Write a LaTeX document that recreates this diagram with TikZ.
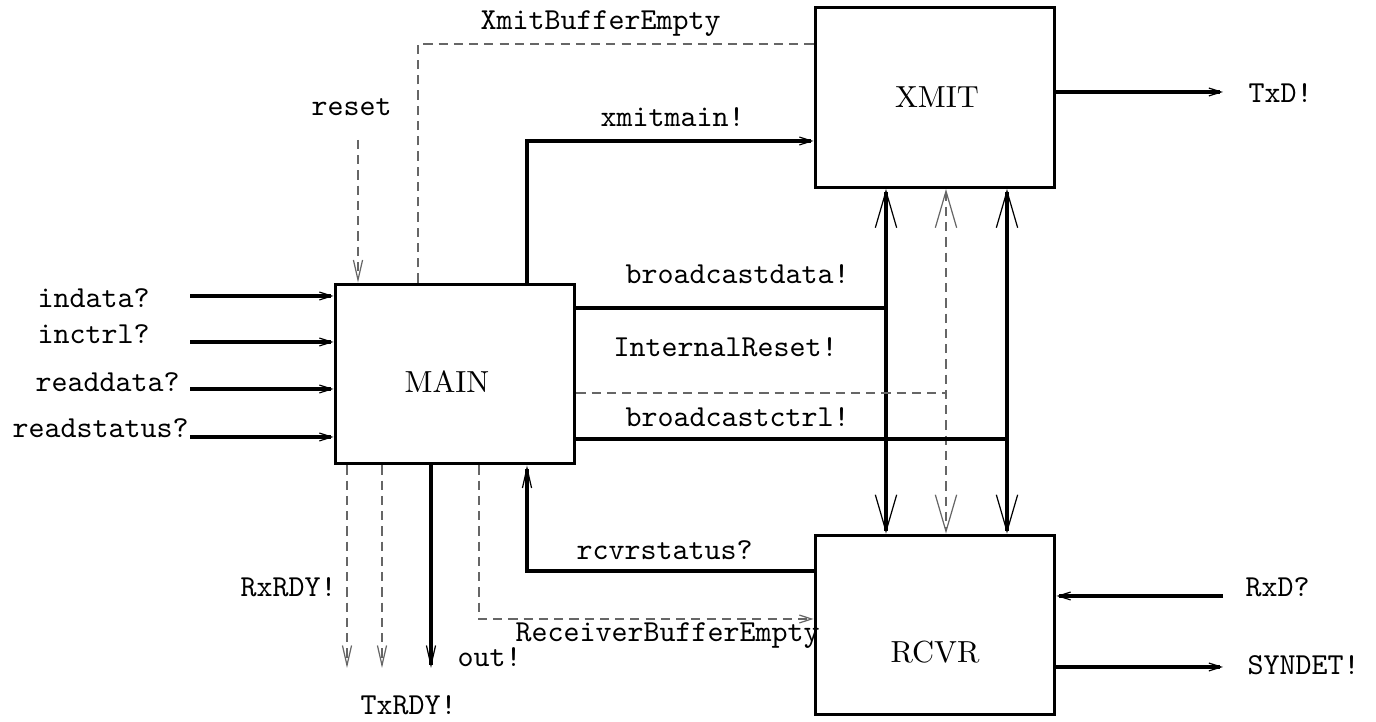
\documentclass[tikz,border=0pt]{standalone}
\usetikzlibrary{arrows.meta}

\tikzset{
	unit/.style={draw, line width=1pt, minimum width=78.7pt, minimum height=59pt, inner sep=0pt},
	unitname/.style={font=\rmfamily},
	sigtext/.style={font=\ttfamily, anchor=base west, inner sep=0pt},
	sig/.style={line width=1pt},
	ctl/.style={line width=0.4pt, black!60, dash pattern=on 3pt off 2pt},
	hh/.style={-{Straight Barb[length=4pt,width=2.6pt,line width=0.4pt]}},
	vv/.style={-{Straight Barb[length=6.5pt,width=3pt,line width=0.4pt]}},
	bus/.style={{Straight Barb[length=12pt,width=7pt,line width=0.4pt]}-{Straight Barb[length=12pt,width=7pt,line width=0.4pt]}}
}

\begin{document}
\begin{tikzpicture}[x=0.328pt,y=-0.328pt]
		\useasboundingbox (0,0) rectangle (1376,722);

		\node[unit] (main) at (455,374) {};
		\node[unit] (xmit) at (935,97.5) {};
		\node[unit] (rcvr) at (935,625) {};
		\node[unitname] (mainname) at (447,382) {MAIN};
		\node[unitname] (xmitname) at (937,97) {XMIT};
		\node[unitname] (rcvrname) at (935,652) {RCVR};

		% inputs of MAIN
		\foreach \n/\y in {indata/296, inctrl/342, readdata/389, readstatus/437} {
			\coordinate (\n) at (190,\y);
			\draw[sig,hh] (\n) -- (\n -| main.west);
		}
		\node[sigtext] (indatatext) at (37,308) {indata?};
		\node[sigtext] (inctrltext) at (37,344) {inctrl?};
		\node[sigtext] (readdatatext) at (35,392) {readdata?};
		\node[sigtext] (readstatustext) at (12,438) {readstatus?};

		% top
		\coordinate (reset) at (358,140);
		\draw[ctl,vv] (reset) -- (reset |- main.north);
		\node[sigtext] (resettext) at (311,116) {reset};

		\coordinate (xbe) at (418,44);
		\draw[ctl] (xbe |- main.north) |- (xmit.west |- xbe);
		\node[sigtext] (xbetext) at (480,30) {XmitBufferEmpty};

		\coordinate (xm) at (527,141);
		\draw[sig,hh] (xm |- main.north) |- (xmit.west |- xm);
		\node[sigtext] (xmtext) at (600,127) {xmitmain!};

		% between MAIN, XMIT and RCVR
		\coordinate (bd) at (886,308);
		\draw[sig] (main.east |- bd) -- (bd);
		\draw[sig,bus] (bd |- xmit.south) -- (bd |- rcvr.north);
		\node[sigtext] (bdtext) at (625,284) {broadcastdata!};

		\coordinate (ir) at (946,393);
		\draw[ctl] (main.east |- ir) -- (ir);
		\draw[ctl,bus] (ir |- xmit.south) -- (ir |- rcvr.north);
		\node[sigtext] (irtext) at (613,357) {InternalReset!};

		\coordinate (bc) at (1007,439);
		\draw[sig] (main.east |- bc) -- (bc);
		\draw[sig,bus] (bc |- xmit.south) -- (bc |- rcvr.north);
		\node[sigtext] (bctext) at (625,427) {broadcastctrl!};

		\coordinate (rs) at (527,571);
		\draw[sig,vv] (rcvr.west |- rs) -| (rs |- main.south);
		\node[sigtext] (rstext) at (576,560) {rcvrstatus?};

		\coordinate (rbe) at (479,619);
		\draw[ctl,hh] (rbe |- main.south) |- (rcvr.west |- rbe);
		\node[sigtext] (rbetext) at (515,642) {ReceiverBufferEmpty};

		% outputs of MAIN
		\coordinate (rxrdy) at (347,668);
		\coordinate (txrdy) at (382,668);
		\coordinate (out) at (431,668);
		\draw[ctl,vv] (rxrdy |- main.south) -- (rxrdy);
		\draw[ctl,vv] (txrdy |- main.south) -- (txrdy);
		\draw[sig,vv] (out |- main.south) -- (out);
		\node[sigtext] (rxrdytext) at (240,597) {RxRDY!};
		\node[sigtext] (txrdytext) at (360,715) {TxRDY!};
		\node[sigtext] (outtext) at (457,667) {out!};

		% right side
		\coordinate (txd) at (1223,92);
		\draw[sig,hh] (xmit.east |- txd) -- (txd);
		\node[sigtext] (txdtext) at (1248,103) {TxD!};

		\coordinate (rxd) at (1223,596);
		\draw[sig,hh] (rxd) -- (rxd -| rcvr.east);
		\node[sigtext] (rxdtext) at (1245,597) {RxD?};

		\coordinate (syndet) at (1223,667);
		\draw[sig,hh] (rcvr.east |- syndet) -- (syndet);
		\node[sigtext] (syndettext) at (1247,675) {SYNDET!};
	\end{tikzpicture}
\end{document}
